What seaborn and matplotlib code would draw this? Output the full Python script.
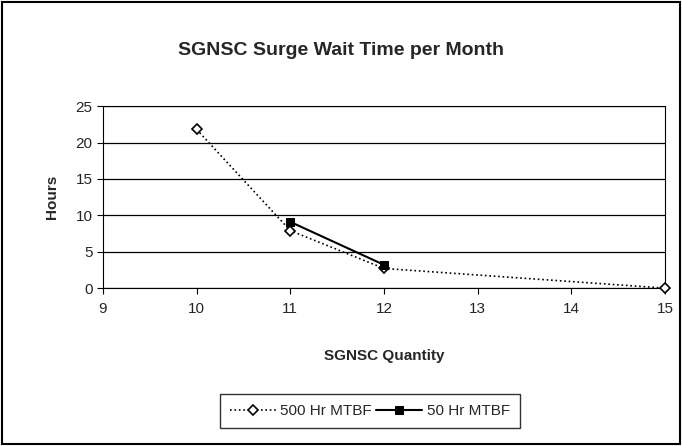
import pandas as pd
import matplotlib.pyplot as plt
import seaborn as sns
from matplotlib.patches import Rectangle

# Daten
qty_500 = [10, 11, 12, 15]
hours_500 = [21.8, 7.9, 2.7, 0.0]
qty_50 = [11, 12]
hours_50 = [9.1, 3.2]

df_500 = pd.DataFrame({'qty': qty_500, 'hours': hours_500})
df_50 = pd.DataFrame({'qty': qty_50, 'hours': hours_50})

sns.set_style('white')
plt.rcParams['font.family'] = ['Liberation Sans', 'DejaVu Sans']

fig = plt.figure(figsize=(6.82, 4.46), dpi=100)
ax = fig.add_axes([0.151, 0.354, 0.824, 0.408])

sns.lineplot(data=df_500, x='qty', y='hours', ax=ax, color='black', linestyle=':',
             linewidth=1.2, marker='D', markersize=5, markerfacecolor='white',
             markeredgecolor='black', markeredgewidth=1.2, label='500 Hr MTBF',
             clip_on=False, zorder=5)
sns.lineplot(data=df_50, x='qty', y='hours', ax=ax, color='black', linestyle='-',
             linewidth=1.5, marker='s', markersize=6, markerfacecolor='black',
             markeredgecolor='black', label='50 Hr MTBF', clip_on=False, zorder=6)

ax.set_xlim(9, 15)
ax.set_ylim(0, 25)
ax.set_xticks(range(9, 16))
ax.set_yticks(range(0, 26, 5))
ax.yaxis.grid(True, color='black', linewidth=0.9)
ax.set_axisbelow(True)
for s in ax.spines.values():
    s.set_color('black')
    s.set_linewidth(0.8)
ax.tick_params(axis='both', direction='out', length=4, width=0.8, color='black',
               labelsize=11, bottom=True, left=True)
ax.tick_params(axis='x', pad=6)

ax.set_xlabel('SGNSC Quantity', fontsize=11, fontweight='bold', labelpad=24)
ax.set_ylabel('Hours', fontsize=11, fontweight='bold', labelpad=12)
fig.suptitle('SGNSC Surge Wait Time per Month', fontsize=14, fontweight='bold', y=0.905)

ax.legend(loc='center', bbox_to_anchor=(0.475, -0.675), ncol=2, frameon=True,
          fancybox=False, edgecolor='black', fontsize=11, handlelength=3,
          columnspacing=0.3, handletextpad=0.3, borderpad=0.65)

fig.patches.append(Rectangle((0.003, 0.005), 0.994, 0.99, transform=fig.transFigure,
                             fill=False, edgecolor='black', linewidth=1.5))

fig.savefig('out.png', dpi=100)
